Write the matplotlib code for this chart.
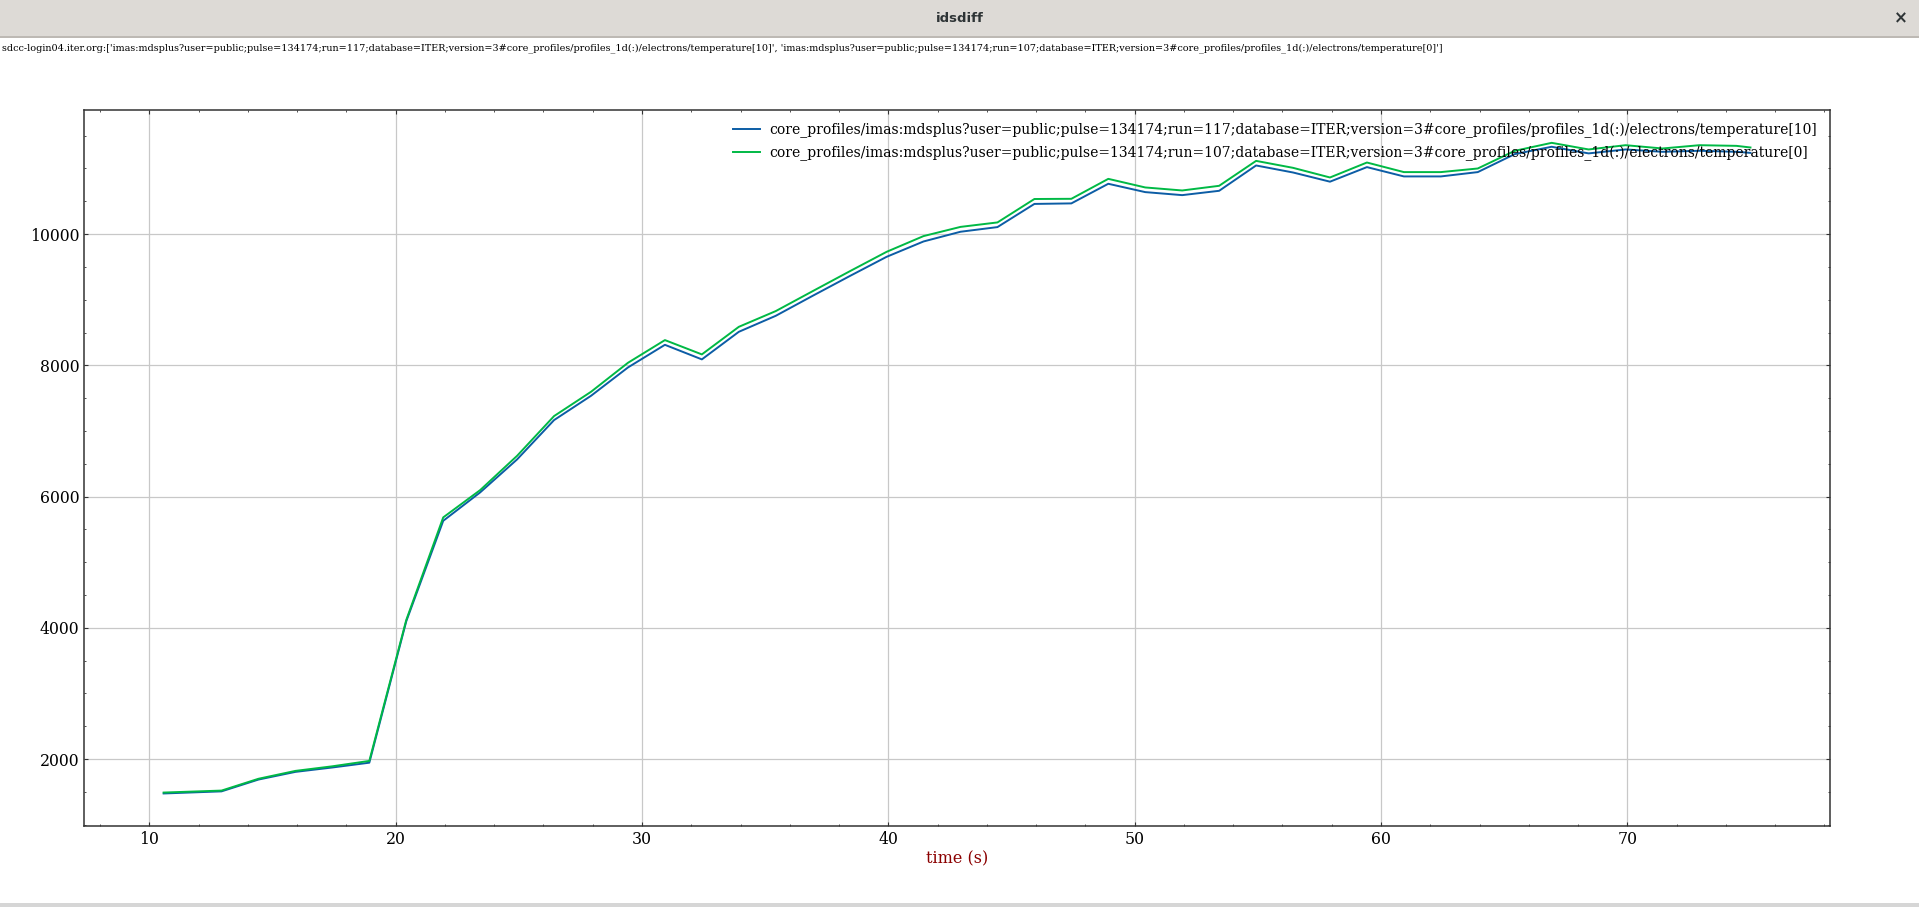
import matplotlib
matplotlib.use("Agg")
import matplotlib.pyplot as plt
from matplotlib.patches import Rectangle
from matplotlib.ticker import MultipleLocator

# ---- data ----
time_s = [10.58, 12.93, 14.43, 15.93, 17.43, 18.93, 20.43, 21.93, 23.43, 24.93,
          26.43, 27.93, 29.43, 30.93, 32.43, 33.93, 35.43, 36.93, 38.43, 39.93,
          41.43, 42.93, 44.43, 45.93, 47.43, 48.93, 50.43, 51.93, 53.43, 54.93,
          56.43, 57.93, 59.43, 60.93, 62.43, 63.93, 65.43, 66.93, 68.43, 69.93,
          71.43, 72.93, 74.43, 75.0]
te_run117 = [1476, 1508, 1688, 1805, 1872, 1945, 4100, 5631, 6064, 6567,
             7166, 7536, 7968, 8313, 8091, 8511, 8755, 9060, 9360, 9654,
             9888, 10036, 10107, 10460, 10468, 10767, 10640, 10594, 10660, 11046,
             10939, 10799, 11021, 10879, 10879, 10945, 11219, 11331, 11230, 11290,
             11254, 11270, 11254, 11238]
te_run107 = [1490, 1520, 1700, 1820, 1890, 1972, 4120, 5683, 6099, 6622,
             7227, 7597, 8039, 8385, 8167, 8587, 8827, 9131, 9433, 9730,
             9970, 10110, 10178, 10535, 10538, 10842, 10711, 10665, 10736, 11116,
             11010, 10863, 11091, 10945, 10945, 11000, 11269, 11391, 11290, 11355,
             11305, 11355, 11345, 11320]

label_117 = "core_profiles/imas:mdsplus?user=public;pulse=134174;run=117;database=ITER;version=3#core_profiles/profiles_1d(:)/electrons/temperature[10]"
label_107 = "core_profiles/imas:mdsplus?user=public;pulse=134174;run=107;database=ITER;version=3#core_profiles/profiles_1d(:)/electrons/temperature[0]"
header = ("sdcc-login04.iter.org:['imas:mdsplus?user=public;pulse=134174;run=117;database=ITER;version=3#core_profiles/profiles_1d(:)/electrons/temperature[10]', "
          "'imas:mdsplus?user=public;pulse=134174;run=107;database=ITER;version=3#core_profiles/profiles_1d(:)/electrons/temperature[0]']")
window_title = "idsdiff"
xlabel = "time (s)"

plt.rcParams['font.family'] = ['DejaVu Serif']

W, H = 1919, 907
fig = plt.figure(figsize=(W / 100, H / 100), dpi=100)

# window title bar
fig.patches.append(Rectangle((0, 1 - 37 / H), 1, 37 / H, transform=fig.transFigure,
                             facecolor='#dddad6', edgecolor='none', zorder=-5))
fig.patches.append(Rectangle((0, 1 - 37.5 / H), 1, 1.2 / H, transform=fig.transFigure,
                             facecolor='#bdb9b4', edgecolor='none', zorder=-4))
fig.patches.append(Rectangle((0, 0), 1, 4 / H, transform=fig.transFigure,
                             facecolor='#d6d6d6', edgecolor='none', zorder=-5))
fig.text(959.5 / W, 1 - 19 / H, window_title, ha='center', va='center',
         fontsize=9.5, fontweight='bold', family='DejaVu Sans', color='#2e3436')
fig.text(1901 / W, 1 - 18.5 / H, "×", ha='center', va='center',
         fontsize=12, fontweight='bold', family='DejaVu Sans', color='#2e3436')
fig.text(2 / W, 1 - 48 / H, header, ha='left', va='center', fontsize=6.94, color='black')

ax = fig.add_axes([84.3 / W, 81 / H, (1829.8 - 84.3) / W, (826 - 110.3) / H])
ax.plot(time_s, te_run117, color='#0C5DA5', lw=1.4, label=label_117)
ax.plot(time_s, te_run107, color='#00B945', lw=1.4, label=label_107)

ax.xaxis.set_major_locator(MultipleLocator(10))
ax.xaxis.set_minor_locator(MultipleLocator(2))
ax.yaxis.set_major_locator(MultipleLocator(2000))
ax.yaxis.set_minor_locator(MultipleLocator(500))
ax.tick_params(which='both', direction='in', top=True, right=True, labelsize=11.3,
               color='#333333')
ax.tick_params(which='major', length=3, width=0.8)
ax.tick_params(which='minor', length=1.6, width=0.6)
for s in ax.spines.values():
    s.set_color('#333333')
    s.set_linewidth(1.1)
ax.grid(True, which='major', color='#c8c8c8', lw=0.9)
ax.set_axisbelow(True)
ax.set_xlabel(xlabel, color='#8b0000', fontsize=11.5, labelpad=1.5)

ax.legend(loc='upper right', frameon=False, fontsize=10.0, handlelength=1.95,
          handletextpad=0.7, borderaxespad=0.5, labelspacing=0.56)

fig.savefig("out.png", dpi=100)
